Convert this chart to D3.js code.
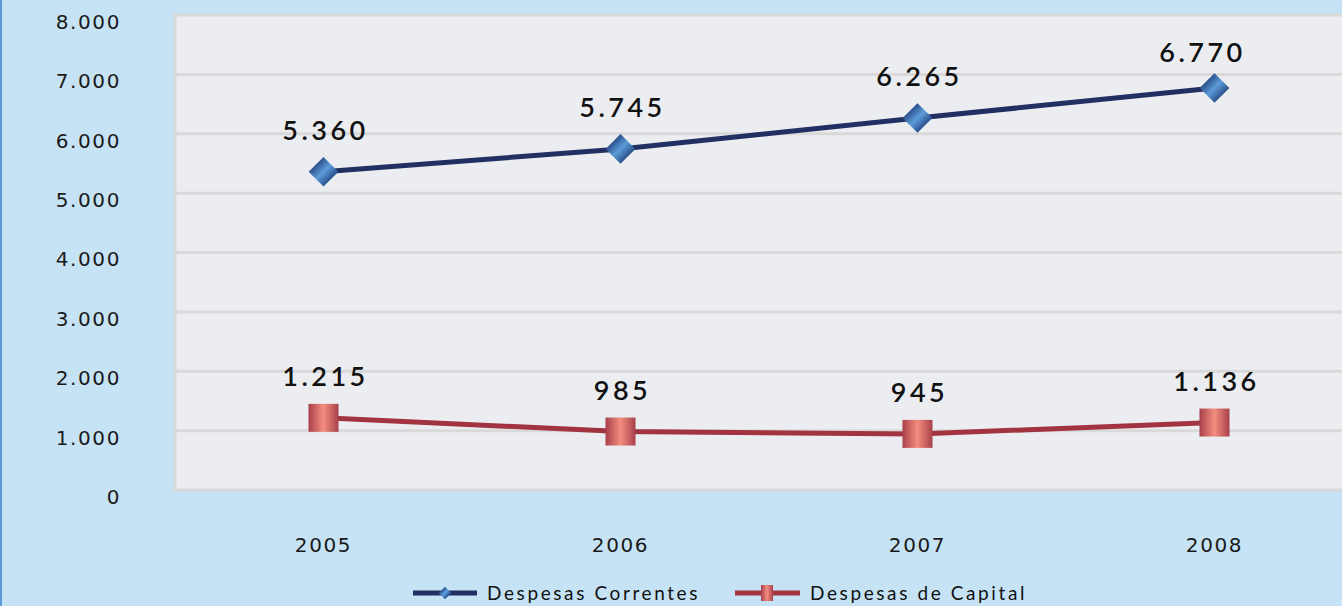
<!DOCTYPE html>
<html>
<head>
<meta charset="utf-8">
<script src="https://cdn.jsdelivr.net/npm/d3@7"></script>
<style>
  body { margin: 0; background: #c6e3f5; overflow: hidden; }
  svg { display: block; }
  .tick text { font-family: "DejaVu Sans", Verdana, sans-serif; font-weight: normal; }
</style>
</head>
<body>
<div id="chart"></div>
<script>
var years = ["2005", "2006", "2007", "2008"];
var correntes = [5360, 5745, 6265, 6770];
var capital = [1215, 985, 945, 1136];
var yTicks = [0, 1000, 2000, 3000, 4000, 5000, 6000, 7000, 8000];
var seriesNames = ["Despesas Correntes", "Despesas de Capital"];

var W = 1342, H = 606;
var fmt = function(v){ return d3.format(",")(v).replace(/,/g, "."); };

var svg = d3.select("#chart").append("svg")
    .attr("width", W).attr("height", H);

var defs = svg.append("defs");
function grad(id, edge, mid){
  var g = defs.append("linearGradient").attr("id", id)
      .attr("x1", "0%").attr("x2", "100%").attr("y1", "0%").attr("y2", "0%");
  g.append("stop").attr("offset", "0%").attr("stop-color", edge);
  g.append("stop").attr("offset", "50%").attr("stop-color", mid);
  g.append("stop").attr("offset", "100%").attr("stop-color", edge);
}
grad("gBlue", "#2b518e", "#5c9cd8");
grad("gRed", "#a8404a", "#f38e7e");

svg.append("rect").attr("x", 0).attr("y", 0).attr("width", 2).attr("height", H)
    .attr("fill", "#5b9bd5");

var plotLeft = 175, plotTop = 15, plotBottom = 490;
var xs = d3.scaleBand().domain(years).range([plotLeft, plotLeft + 4 * 297]);
var ys = d3.scaleLinear().domain([0, 8000]).range([plotBottom, plotTop]);

// plot area
svg.append("rect")
    .attr("x", plotLeft).attr("y", ys(8000))
    .attr("width", W + 20 - plotLeft).attr("height", ys(0) - ys(8000))
    .attr("fill", "#ebedf0").attr("stroke", "#d9d9d9").attr("stroke-width", 3);

svg.append("g").selectAll("line")
  .data(yTicks.filter(function(d){ return d > 0 && d < 8000; }))
  .join("line")
    .attr("x1", plotLeft).attr("x2", W)
    .attr("y1", function(d){ return ys(d); }).attr("y2", function(d){ return ys(d); })
    .attr("stroke", "#d9d9d9").attr("stroke-width", 3);

// y axis labels
var yAxis = svg.append("g")
    .attr("transform", "translate(121,7)")
    .call(d3.axisLeft(ys).tickValues(yTicks).tickFormat(fmt).tickSize(0).tickPadding(0));
yAxis.select(".domain").remove();
yAxis.selectAll("text")
    .attr("font-size", 20)
    .attr("letter-spacing", 1.6).attr("fill", "#1a1a1a");

// x axis labels
var xAxis = svg.append("g")
    .attr("transform", "translate(0,538)")
    .call(d3.axisBottom(xs).tickSize(0).tickPadding(0));
xAxis.select(".domain").remove();
xAxis.selectAll("text")
    .attr("font-size", 20)
    .attr("letter-spacing", 1.6).attr("fill", "#1a1a1a");

var cx = function(d, i){ return xs(years[i]) + xs.bandwidth() / 2; };
var line = d3.line()
    .x(function(d, i){ return cx(d, i); })
    .y(function(d){ return ys(d); });

svg.append("path").datum(correntes).attr("d", line)
    .attr("fill", "none").attr("stroke", "#222f62").attr("stroke-width", 5);
svg.append("path").datum(capital).attr("d", line)
    .attr("fill", "none").attr("stroke", "#a23340").attr("stroke-width", 5);

var diamond = d3.symbol().type(d3.symbolSquare).size(440);
svg.append("g").selectAll("path").data(correntes).join("path")
    .attr("d", diamond)
    .attr("transform", function(d, i){ return "translate(" + cx(d, i) + "," + ys(d) + ") rotate(45)"; })
    .attr("fill", "url(#gBlue)");

svg.append("g").selectAll("rect").data(capital).join("rect")
    .attr("x", function(d, i){ return cx(d, i) - 15; })
    .attr("y", function(d){ return ys(d) - 14; })
    .attr("width", 30).attr("height", 28)
    .attr("fill", "url(#gRed)");

// data labels; like the original, a label too close to the top is nudged down and left
function labels(data){
  svg.append("g").selectAll("text").data(data).join("text")
      .attr("x", function(d, i){
        var x = cx(d, i) + 2;
        return ys(d) - 32 < 62 ? x - 14 : x;
      })
      .attr("y", function(d){ return Math.max(ys(d) - 32, 62); })
      .attr("text-anchor", "middle")
      .attr("font-family", "Lato, 'Noto Sans', sans-serif")
      .attr("font-weight", 600).attr("font-size", 27)
      .attr("letter-spacing", 3.5).attr("fill", "#111")
      .text(fmt);
}
labels(correntes);
labels(capital);

// legend
var leg = svg.append("g").attr("transform", "translate(0,593)");
leg.append("line").attr("x1", 413).attr("x2", 477).attr("y1", 0).attr("y2", 0)
    .attr("stroke", "#222f62").attr("stroke-width", 5);
leg.append("path").attr("d", d3.symbol().type(d3.symbolSquare).size(80))
    .attr("transform", "translate(445,0) rotate(45)").attr("fill", "url(#gBlue)");
leg.append("line").attr("x1", 735).attr("x2", 800).attr("y1", 0).attr("y2", 0)
    .attr("stroke", "#a23340").attr("stroke-width", 5);
leg.append("rect").attr("x", 761).attr("y", -8).attr("width", 12).attr("height", 16)
    .attr("fill", "url(#gRed)");
leg.selectAll("text").data(seriesNames).join("text")
    .attr("x", function(d, i){ return i === 0 ? 487 : 810; })
    .attr("y", 7)
    .attr("font-family", "Lato, sans-serif").attr("font-size", 19)
    .attr("letter-spacing", 2.6).attr("fill", "#111")
    .text(function(d){ return d; });
</script>
</body>
</html>
